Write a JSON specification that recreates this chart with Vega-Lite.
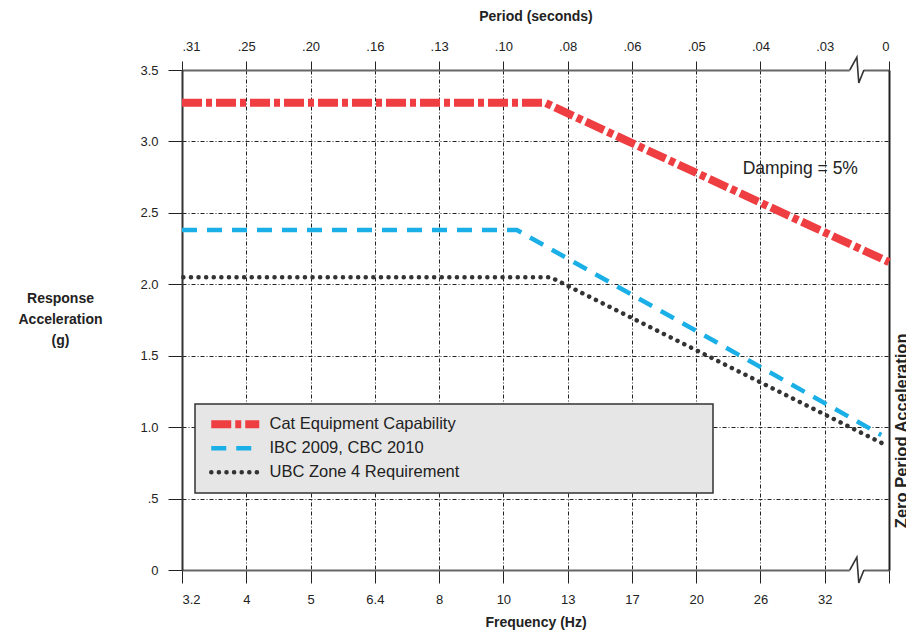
{
  "$schema": "https://vega.github.io/schema/vega-lite/v6.json",
  "width": 707,
  "height": 500,
  "autosize": {"type": "none"},
  "padding": {"left": 182, "top": 70, "right": 17, "bottom": 64},
  "background": "white",
  "config": {
    "view": {"stroke": null},
    "font": "Liberation Sans",
    "axis": {
      "labelFont": "Liberation Sans",
      "labelFontSize": 13,
      "labelColor": "#222",
      "titleFont": "Liberation Sans",
      "titleFontSize": 14,
      "titleFontWeight": "bold",
      "titleColor": "#222",
      "tickColor": "#222",
      "domainColor": "#333",
      "gridColor": "#222",
      "gridDash": [4, 2, 1, 2],
      "gridWidth": 1,
      "gridOpacity": 1
    },
    "legend": {
      "orient": "none",
      "legendX": 13,
      "legendY": 334,
      "fillColor": "#e6e6e6",
      "strokeColor": "#333",
      "padding": 12,
      "symbolType": "stroke",
      "labelFont": "Liberation Sans",
      "labelFontSize": 16.5,
      "labelColor": "#222",
      "labelLimit": 400
    }
  },
  "datasets": {
    "curves": [
      {"series": "Cat Equipment Capability", "f": 0, "g": 3.27},
      {"series": "Cat Equipment Capability", "f": 5.65, "g": 3.27},
      {"series": "Cat Equipment Capability", "f": 11, "g": 2.155},
      {"series": "IBC 2009, CBC 2010", "f": 0, "g": 2.38},
      {"series": "IBC 2009, CBC 2010", "f": 5.21, "g": 2.38},
      {"series": "IBC 2009, CBC 2010", "f": 10.88, "g": 0.945},
      {"series": "UBC Zone 4 Requirement", "f": 0.02, "g": 2.05},
      {"series": "UBC Zone 4 Requirement", "f": 5.73, "g": 2.05},
      {"series": "UBC Zone 4 Requirement", "f": 10.97, "g": 0.87}
    ],
    "breaks": [
      {"part": "top", "f": 10.39, "g": 3.5},
      {"part": "top", "f": 10.5, "g": 3.59},
      {"part": "top", "f": 10.53, "g": 3.41},
      {"part": "top", "f": 10.61, "g": 3.5},
      {"part": "bottom", "f": 10.39, "g": 0},
      {"part": "bottom", "f": 10.5, "g": 0.09},
      {"part": "bottom", "f": 10.53, "g": -0.09},
      {"part": "bottom", "f": 10.61, "g": 0}
    ],
    "gaps": [
      {"f": 10.39, "f2": 10.61, "g": 3.5},
      {"f": 10.39, "f2": 10.61, "g": 0}
    ]
  },
  "layer": [
    {
      "data": {"name": "curves"},
      "transform": [{"filter": "datum.series === 'IBC 2009, CBC 2010'"}],
      "mark": {"type": "line", "strokeWidth": 4.5, "strokeCap": "butt"},
      "encoding": {
        "x": {
          "field": "f",
          "type": "quantitative",
          "scale": {"domain": [0, 11], "nice": false, "zero": false},
          "axis": {
            "orient": "bottom",
            "values": [0, 1, 2, 3, 4, 5, 6, 7, 8, 9, 10, 11],
            "labelExpr": "['3.2','4','5','6.4','8','10','13','17','20','26','32',''][datum.value]",
            "grid": true,
            "tickSize": 13,
            "labelPadding": 10,
            "domainColor": "#666",
            "domainWidth": 2,
            "title": "Frequency (Hz)",
            "titlePadding": 9
          }
        },
        "y": {
          "field": "g",
          "type": "quantitative",
          "scale": {"domain": [0, 3.5], "nice": false},
          "axis": {
            "orient": "left",
            "values": [0, 0.5, 1, 1.5, 2, 2.5, 3, 3.5],
            "labelExpr": "datum.value == 0 ? '0' : datum.value == 0.5 ? '.5' : format(datum.value, '.1f')",
            "grid": true,
            "tickSize": 14,
            "labelPadding": 10,
            "domainWidth": 2,
            "title": ["Response", "Acceleration", "(g)"],
            "titleAngle": 0,
            "titleAlign": "center",
            "titleBaseline": "middle",
            "titleLineHeight": 21,
            "titleX": -122,
            "titleY": 228
          }
        },
        "color": {
          "field": "series",
          "type": "nominal",
          "scale": {
            "domain": ["Cat Equipment Capability", "IBC 2009, CBC 2010", "UBC Zone 4 Requirement"],
            "range": ["#ef3e42", "#1aafe6", "#333333"]
          },
          "legend": {
            "title": " ",
            "titleOrient": "right",
            "titlePadding": 242,
            "symbolSize": 2304,
            "symbolOffset": 20,
            "labelOffset": 26,
            "rowPadding": 7,
            "encode": {
              "symbols": {
                "update": {
                  "strokeWidth": {"signal": "datum.value === 'Cat Equipment Capability' ? 8 : 4.5"},
                  "strokeCap": {"signal": "datum.value === 'UBC Zone 4 Requirement' ? 'round' : 'butt'"},
                  "strokeJoin": {"value": "round"}
                }
              },
              "legend": {"update": {"strokeWidth": {"value": 1.5}}}
            }
          }
        },
        "strokeDash": {
          "field": "series",
          "type": "nominal",
          "scale": {
            "domain": ["Cat Equipment Capability", "IBC 2009, CBC 2010", "UBC Zone 4 Requirement"],
            "range": [[20, 4, 6, 4], [15, 10], [0.1, 7.5]]
          },
          "legend": {"title": " "}
        }
      }
    },
    {
      "data": {"name": "curves"},
      "transform": [{"filter": "datum.series === 'Cat Equipment Capability'"}],
      "mark": {"type": "line", "strokeWidth": 8, "strokeCap": "butt"},
      "encoding": {
        "x": {
          "field": "f",
          "type": "quantitative",
          "axis": {
            "orient": "top",
            "values": [0, 1, 2, 3, 4, 5, 6, 7, 8, 9, 10, 11],
            "labelExpr": "['.31','.25','.20','.16','.13','.10','.08','.06','.05','.04','.03','0'][datum.value]",
            "grid": false,
            "tickSize": 9,
            "labelPadding": 8,
            "domainColor": "#666",
            "domainWidth": 2,
            "title": "Period (seconds)",
            "titlePadding": 17
          }
        },
        "y": {
          "field": "g",
          "type": "quantitative",
          "axis": {
            "orient": "right",
            "ticks": false,
            "labels": false,
            "grid": false,
            "domainColor": "#222",
            "domainWidth": 2,
            "title": "Zero Period Acceleration",
            "titleFontSize": 16.5,
            "titleAngle": 270,
            "titleAlign": "right",
            "titleBaseline": "alphabetic",
            "titleX": 17,
            "titleY": 263
          }
        },
        "color": {"field": "series", "type": "nominal"},
        "strokeDash": {"field": "series", "type": "nominal"}
      }
    },
    {
      "data": {"name": "curves"},
      "transform": [{"filter": "datum.series === 'UBC Zone 4 Requirement'"}],
      "mark": {"type": "line", "strokeWidth": 4.5, "strokeCap": "round"},
      "encoding": {
        "x": {"field": "f", "type": "quantitative", "axis": null},
        "y": {"field": "g", "type": "quantitative", "axis": null},
        "color": {"field": "series", "type": "nominal"},
        "strokeDash": {"field": "series", "type": "nominal"}
      }
    },
    {
      "data": {"name": "gaps"},
      "mark": {"type": "rule", "color": "white", "strokeWidth": 5},
      "encoding": {
        "x": {"field": "f", "type": "quantitative", "axis": null},
        "x2": {"field": "f2"},
        "y": {"field": "g", "type": "quantitative", "axis": null}
      }
    },
    {
      "data": {"name": "breaks"},
      "mark": {"type": "line", "color": "#333", "strokeWidth": 1.6},
      "encoding": {
        "x": {"field": "f", "type": "quantitative", "axis": null},
        "y": {"field": "g", "type": "quantitative", "axis": null},
        "detail": {"field": "part", "type": "nominal"}
      }
    },
    {
      "data": {"values": [{"label": "Damping = 5%"}]},
      "mark": {"type": "text", "fontSize": 17.5, "color": "#222", "align": "center", "baseline": "middle"},
      "encoding": {
        "x": {"datum": 9.62, "type": "quantitative", "axis": null},
        "y": {"datum": 2.81, "type": "quantitative", "axis": null},
        "text": {"field": "label"}
      }
    }
  ]
}
